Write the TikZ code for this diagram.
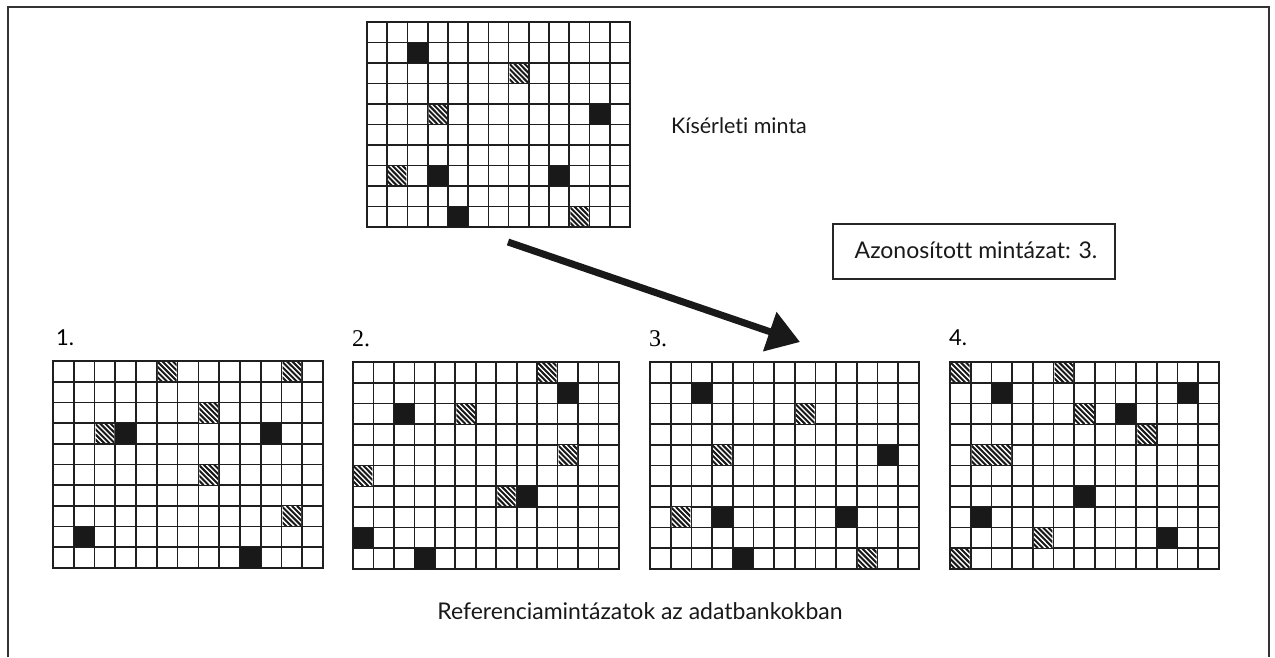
\documentclass[tikz,border=0pt]{standalone}
\usepackage{fontspec}
\setmainfont{Lato}[Ligatures=NoCommon]
\newfontfamily\serifnum{Liberation Serif}
\usetikzlibrary{arrows.meta}
\tikzset{
  gridline/.style={line width=1.7pt,draw=black!88,line cap=rect},
  cellink/.style={fill=black!90},
  hatchline/.style={line width=2pt,draw=black!90},
  frameline/.style={line width=1.5pt,draw=black!80},
  lbl/.style={font=\fontsize{22}{26}\selectfont,inner sep=0pt,anchor=base west},
  caption/.style={font=\fontsize{23}{27}\selectfont,inner sep=0pt,anchor=base,text=black!90},
  resultbox/.style={draw=black!85,line width=1.4pt,minimum width=282pt,minimum height=55pt,inner sep=0pt},
  bigarrow/.style={line width=7pt,black!90,-{Triangle[length=32pt,width=40pt]}}
}
\newcommand\patgrid[6]{%
 \pgfmathsetmacro\cw{#3/13}\pgfmathsetmacro\ch{#4/10}%
 \begin{scope}[shift={(#1,#2)},x=\cw pt,y=-\ch pt]
  \foreach \i in {0,...,13} \draw[gridline] (\i,0) -- (\i,10);
  \foreach \j in {0,...,10} \draw[gridline] (0,\j) -- (13,\j);
  \foreach \c/\r in {#5} \fill[cellink] (\c,\r) rectangle ++(1,1);
  \foreach \c/\r/\s in {#6} {
    \begin{scope}
      \clip (\c+0.05,\r+0.05) rectangle (\c+\s-0.05,\r+0.95);
      \fill[white] (\c,\r) rectangle (\c+\s,\r+1);
      \foreach \k in {-1,-0.75,...,2.2} \draw[hatchline] (\c+\k,\r) -- ++(1,1);
    \end{scope}}
 \end{scope}}
\begin{document}
\begin{tikzpicture}[x=1pt,y=-1pt]
\useasboundingbox (0,0) rectangle (1275,657);
\fill[white] (0,0) rectangle (1275,657);
% frame
\draw[frameline] (8,657) -- (8,7) -- (1269,7) -- (1269,657);
% sample grid
\patgrid{367}{22}{263}{205}{2/1,11/4,3/7,9/7,4/9}{7/2/1,3/4/1,1/7/1,10/9/1}
\node[caption,font=\fontsize{21.5}{25}\selectfont] (sample) at (739,133) {Kísérleti minta};
% result box
\node[resultbox] (result) at (974,251.5) {};
\node[caption] (resulttext) at (976,258) {Azonosított mintázat: 3.};
% reference grids
\node[lbl] (l1) at (56,345) {1.};
\node[lbl,font=\serifnum\fontsize{24}{28}\selectfont] (l2) at (352,346) {2.};
\node[lbl,font=\serifnum\fontsize{24}{28}\selectfont] (l3) at (649,346) {3.};
\node[lbl] (l4) at (949,345) {4.};
\patgrid{53}{361}{270}{207}{3/3,10/3,1/8,9/9}{5/0/1,11/0/1,7/2/1,2/3/1,7/5/1,11/7/1}
\patgrid{353}{362}{266}{207}{10/1,2/2,8/6,0/8,3/9}{9/0/1,5/2/1,10/4/1,0/5/1,7/6/1}
\patgrid{650}{362}{269}{207}{2/1,11/4,3/7,9/7,4/9}{7/2/1,3/4/1,1/7/1,10/9/1}
\patgrid{950}{362}{269}{207}{2/1,11/1,8/2,6/6,1/7,10/8}{0/0/1,5/0/1,6/2/1,9/3/1,1/4/2,4/8/1,0/9/1}
% arrow
\coordinate (astart) at (508,242);
\coordinate (aend) at (800,342);
\draw[bigarrow] (astart) -- (aend);
\node[caption] (refcap) at (640,619) {Referenciamintázatok az adatbankokban};
\end{tikzpicture}
\end{document}
